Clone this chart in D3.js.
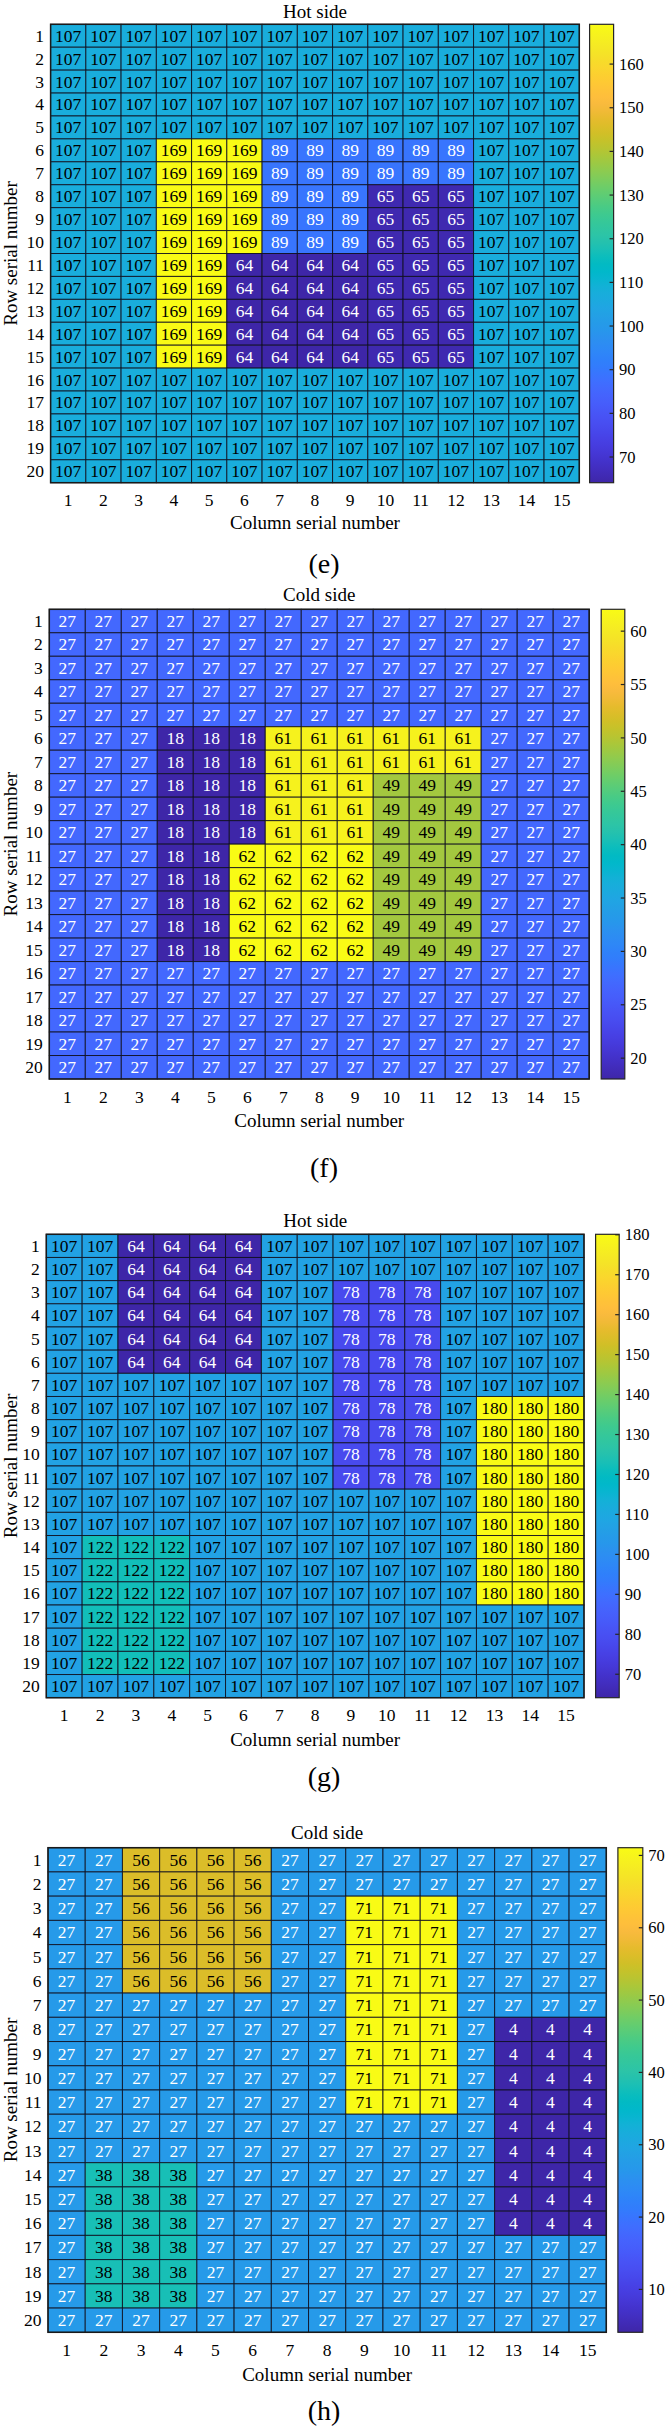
<!DOCTYPE html>
<html><head><meta charset="utf-8">
<script src="https://cdn.jsdelivr.net/npm/d3@7"></script>
<style>body{margin:0;background:#fff}svg{display:block}</style>
</head><body>
<svg id="c" width="672" height="2426"></svg>
<script>
// ---------- data ----------
const colLabels = [1,2,3,4,5,6,7,8,9,10,11,12,13,14,15];
const rowLabels = [1,2,3,4,5,6,7,8,9,10,11,12,13,14,15,16,17,18,19,20];

const hotE = [
 [107,107,107,107,107,107,107,107,107,107,107,107,107,107,107],
 [107,107,107,107,107,107,107,107,107,107,107,107,107,107,107],
 [107,107,107,107,107,107,107,107,107,107,107,107,107,107,107],
 [107,107,107,107,107,107,107,107,107,107,107,107,107,107,107],
 [107,107,107,107,107,107,107,107,107,107,107,107,107,107,107],
 [107,107,107,169,169,169,89,89,89,89,89,89,107,107,107],
 [107,107,107,169,169,169,89,89,89,89,89,89,107,107,107],
 [107,107,107,169,169,169,89,89,89,65,65,65,107,107,107],
 [107,107,107,169,169,169,89,89,89,65,65,65,107,107,107],
 [107,107,107,169,169,169,89,89,89,65,65,65,107,107,107],
 [107,107,107,169,169,64,64,64,64,65,65,65,107,107,107],
 [107,107,107,169,169,64,64,64,64,65,65,65,107,107,107],
 [107,107,107,169,169,64,64,64,64,65,65,65,107,107,107],
 [107,107,107,169,169,64,64,64,64,65,65,65,107,107,107],
 [107,107,107,169,169,64,64,64,64,65,65,65,107,107,107],
 [107,107,107,107,107,107,107,107,107,107,107,107,107,107,107],
 [107,107,107,107,107,107,107,107,107,107,107,107,107,107,107],
 [107,107,107,107,107,107,107,107,107,107,107,107,107,107,107],
 [107,107,107,107,107,107,107,107,107,107,107,107,107,107,107],
 [107,107,107,107,107,107,107,107,107,107,107,107,107,107,107]
];
const coldF = [
 [27,27,27,27,27,27,27,27,27,27,27,27,27,27,27],
 [27,27,27,27,27,27,27,27,27,27,27,27,27,27,27],
 [27,27,27,27,27,27,27,27,27,27,27,27,27,27,27],
 [27,27,27,27,27,27,27,27,27,27,27,27,27,27,27],
 [27,27,27,27,27,27,27,27,27,27,27,27,27,27,27],
 [27,27,27,18,18,18,61,61,61,61,61,61,27,27,27],
 [27,27,27,18,18,18,61,61,61,61,61,61,27,27,27],
 [27,27,27,18,18,18,61,61,61,49,49,49,27,27,27],
 [27,27,27,18,18,18,61,61,61,49,49,49,27,27,27],
 [27,27,27,18,18,18,61,61,61,49,49,49,27,27,27],
 [27,27,27,18,18,62,62,62,62,49,49,49,27,27,27],
 [27,27,27,18,18,62,62,62,62,49,49,49,27,27,27],
 [27,27,27,18,18,62,62,62,62,49,49,49,27,27,27],
 [27,27,27,18,18,62,62,62,62,49,49,49,27,27,27],
 [27,27,27,18,18,62,62,62,62,49,49,49,27,27,27],
 [27,27,27,27,27,27,27,27,27,27,27,27,27,27,27],
 [27,27,27,27,27,27,27,27,27,27,27,27,27,27,27],
 [27,27,27,27,27,27,27,27,27,27,27,27,27,27,27],
 [27,27,27,27,27,27,27,27,27,27,27,27,27,27,27],
 [27,27,27,27,27,27,27,27,27,27,27,27,27,27,27]
];
const hotG = [
 [107,107,64,64,64,64,107,107,107,107,107,107,107,107,107],
 [107,107,64,64,64,64,107,107,107,107,107,107,107,107,107],
 [107,107,64,64,64,64,107,107,78,78,78,107,107,107,107],
 [107,107,64,64,64,64,107,107,78,78,78,107,107,107,107],
 [107,107,64,64,64,64,107,107,78,78,78,107,107,107,107],
 [107,107,64,64,64,64,107,107,78,78,78,107,107,107,107],
 [107,107,107,107,107,107,107,107,78,78,78,107,107,107,107],
 [107,107,107,107,107,107,107,107,78,78,78,107,180,180,180],
 [107,107,107,107,107,107,107,107,78,78,78,107,180,180,180],
 [107,107,107,107,107,107,107,107,78,78,78,107,180,180,180],
 [107,107,107,107,107,107,107,107,78,78,78,107,180,180,180],
 [107,107,107,107,107,107,107,107,107,107,107,107,180,180,180],
 [107,107,107,107,107,107,107,107,107,107,107,107,180,180,180],
 [107,122,122,122,107,107,107,107,107,107,107,107,180,180,180],
 [107,122,122,122,107,107,107,107,107,107,107,107,180,180,180],
 [107,122,122,122,107,107,107,107,107,107,107,107,180,180,180],
 [107,122,122,122,107,107,107,107,107,107,107,107,107,107,107],
 [107,122,122,122,107,107,107,107,107,107,107,107,107,107,107],
 [107,122,122,122,107,107,107,107,107,107,107,107,107,107,107],
 [107,107,107,107,107,107,107,107,107,107,107,107,107,107,107]
];
const coldH = [
 [27,27,56,56,56,56,27,27,27,27,27,27,27,27,27],
 [27,27,56,56,56,56,27,27,27,27,27,27,27,27,27],
 [27,27,56,56,56,56,27,27,71,71,71,27,27,27,27],
 [27,27,56,56,56,56,27,27,71,71,71,27,27,27,27],
 [27,27,56,56,56,56,27,27,71,71,71,27,27,27,27],
 [27,27,56,56,56,56,27,27,71,71,71,27,27,27,27],
 [27,27,27,27,27,27,27,27,71,71,71,27,27,27,27],
 [27,27,27,27,27,27,27,27,71,71,71,27,4,4,4],
 [27,27,27,27,27,27,27,27,71,71,71,27,4,4,4],
 [27,27,27,27,27,27,27,27,71,71,71,27,4,4,4],
 [27,27,27,27,27,27,27,27,71,71,71,27,4,4,4],
 [27,27,27,27,27,27,27,27,27,27,27,27,4,4,4],
 [27,27,27,27,27,27,27,27,27,27,27,27,4,4,4],
 [27,38,38,38,27,27,27,27,27,27,27,27,4,4,4],
 [27,38,38,38,27,27,27,27,27,27,27,27,4,4,4],
 [27,38,38,38,27,27,27,27,27,27,27,27,4,4,4],
 [27,38,38,38,27,27,27,27,27,27,27,27,27,27,27],
 [27,38,38,38,27,27,27,27,27,27,27,27,27,27,27],
 [27,38,38,38,27,27,27,27,27,27,27,27,27,27,27],
 [27,27,27,27,27,27,27,27,27,27,27,27,27,27,27]
];

const ticksE = [70,80,90,100,110,120,130,140,150,160];
const ticksF = [20,25,30,35,40,45,50,55,60];
const ticksG = [70,80,90,100,110,120,130,140,150,160,170,180];
const ticksH = [10,20,30,40,50,60,70];

const titles = ["Hot side","Cold side","Hot side","Cold side"];
const letters = ["(e)","(f)","(g)","(h)"];
const xTitle = "Column serial number";
const yTitle = "Row serial number";

// ---------- parula colormap (style) ----------
const parula = [
[0.2422,0.1504,0.6603],[0.2504,0.1650,0.7076],[0.2578,0.1818,0.7511],[0.2647,0.1978,0.7952],
[0.2706,0.2147,0.8364],[0.2751,0.2342,0.8710],[0.2783,0.2559,0.8991],[0.2803,0.2782,0.9221],
[0.2813,0.3006,0.9414],[0.2810,0.3228,0.9579],[0.2795,0.3447,0.9717],[0.2760,0.3667,0.9829],
[0.2699,0.3892,0.9906],[0.2602,0.4123,0.9952],[0.2440,0.4358,0.9988],[0.2206,0.4603,0.9973],
[0.1963,0.4847,0.9892],[0.1834,0.5074,0.9798],[0.1786,0.5289,0.9682],[0.1764,0.5499,0.9520],
[0.1687,0.5703,0.9359],[0.1540,0.5902,0.9218],[0.1460,0.6091,0.9079],[0.1380,0.6276,0.8973],
[0.1248,0.6459,0.8883],[0.1113,0.6635,0.8763],[0.0952,0.6798,0.8598],[0.0689,0.6948,0.8394],
[0.0297,0.7082,0.8163],[0.0036,0.7203,0.7917],[0.0067,0.7312,0.7660],[0.0433,0.7411,0.7394],
[0.0964,0.7500,0.7120],[0.1408,0.7584,0.6842],[0.1717,0.7670,0.6554],[0.1938,0.7758,0.6251],
[0.2161,0.7843,0.5923],[0.2470,0.7918,0.5567],[0.2906,0.7973,0.5188],[0.3406,0.8008,0.4789],
[0.3909,0.8029,0.4354],[0.4456,0.8024,0.3909],[0.5044,0.7993,0.3480],[0.5616,0.7942,0.3045],
[0.6174,0.7876,0.2612],[0.6720,0.7793,0.2227],[0.7242,0.7698,0.1910],[0.7738,0.7598,0.1646],
[0.8203,0.7498,0.1535],[0.8634,0.7406,0.1596],[0.9035,0.7330,0.1774],[0.9393,0.7288,0.2100],
[0.9728,0.7298,0.2394],[0.9956,0.7434,0.2371],[0.9970,0.7659,0.2199],[0.9952,0.7893,0.2028],
[0.9892,0.8136,0.1885],[0.9786,0.8386,0.1766],[0.9676,0.8639,0.1643],[0.9610,0.8890,0.1537],
[0.9597,0.9135,0.1423],[0.9628,0.9373,0.1265],[0.9691,0.9606,0.1064],[0.9769,0.9839,0.0805]];
function parulaRGB(t){
  t = Math.max(0, Math.min(1, t));
  const f = t*(parula.length-1), i = Math.min(parula.length-2, Math.floor(f)), u = f-i;
  const a = parula[i], b = parula[i+1];
  return [0,1,2].map(k => a[k] + (b[k]-a[k])*u);
}
const toCss = c => d3.rgb(c[0]*255, c[1]*255, c[2]*255).formatHex();

// ---------- layout (style) ----------
const panels = [
 {data:hotE,  ticks:ticksE, x0:50.6,x1:579.3,y0:24.3,  y1:482.7, cb0:589.6,cb1:613.6,titleY:11.7, xtY:500,   xlY:523,   letY:563.5},
 {data:coldF, ticks:ticksF, x0:49.3,x1:589.2,y0:609.3, y1:1079,  cb0:601.2,cb1:624.8,titleY:595,  xtY:1096.7,xlY:1120.7,letY:1167},
 {data:hotG,  ticks:ticksG, x0:46.3,x1:584,  y0:1234.3,y1:1697.7,cb0:595.6,cb1:619.2,titleY:1220.7,xtY:1715, xlY:1740,  letY:1776.7},
 {data:coldH, ticks:ticksH, x0:48,  x1:606.3,y0:1847.7,y1:2332.3,cb0:617.9,cb1:642.8,titleY:1833, xtY:2350,  xlY:2375,  letY:2410}
];
const FONT = "'Liberation Serif','Times New Roman',serif";
const svg = d3.select("#c");
const defs = svg.append("defs");

panels.forEach((p, pi) => {
  const g = svg.append("g");
  const flat = p.data.flat();
  const [vmin, vmax] = d3.extent(flat);
  const norm = d3.scaleLinear().domain([vmin, vmax]).range([0, 1]);
  const colorOf = v => toCss(parulaRGB(norm(v)));
  const lum = v => { const c = parulaRGB(norm(v)); return 0.2989*c[0] + 0.587*c[1] + 0.114*c[2]; };

  const x = d3.scaleBand().domain(colLabels).range([p.x0, p.x1]).padding(0);
  const y = d3.scaleBand().domain(rowLabels).range([p.y0, p.y1]).padding(0);

  const cells = [];
  p.data.forEach((row, ri) => row.forEach((v, ci) => cells.push({r: rowLabels[ri], c: colLabels[ci], v})));

  g.selectAll("rect.cell").data(cells).join("rect")
    .attr("class","cell")
    .attr("x", d => x(d.c)).attr("y", d => y(d.r))
    .attr("width", x.bandwidth()).attr("height", y.bandwidth())
    .attr("fill", d => colorOf(d.v))
    .attr("stroke", "rgba(15,15,30,0.85)").attr("stroke-width", 1);

  g.selectAll("text.val").data(cells).join("text")
    .attr("class","val")
    .attr("x", d => x(d.c) + x.bandwidth()/2)
    .attr("y", d => y(d.r) + y.bandwidth()/2)
    .attr("dy","0.34em")
    .attr("text-anchor","middle")
    .attr("font-family", FONT).attr("font-size", 17.5)
    .attr("fill", d => lum(d.v) < 0.508 ? "#ffffff" : "#000000")
    .text(d => d.v);

  g.append("rect").attr("x", p.x0).attr("y", p.y0)
    .attr("width", p.x1 - p.x0).attr("height", p.y1 - p.y0)
    .attr("fill","none").attr("stroke","#1a1a1a").attr("stroke-width",1.5);

  // x axis tick labels
  const xa = g.append("g").attr("transform", `translate(0,${p.xtY})`)
    .call(d3.axisBottom(x).tickSize(0).tickPadding(0));
  xa.select(".domain").remove();
  xa.selectAll("text").attr("y",0).attr("dy","0.34em")
    .attr("font-family", FONT).attr("font-size", 17.5).attr("fill","#000");

  // y axis tick labels
  const ya = g.append("g").attr("transform", `translate(${p.x0 - 6.5},0)`)
    .call(d3.axisLeft(y).tickSize(0).tickPadding(0));
  ya.select(".domain").remove();
  ya.selectAll("text").attr("x",0).attr("dy","0.34em")
    .attr("font-family", FONT).attr("font-size", 17.5).attr("fill","#000");

  // titles
  const cx = (p.x0 + p.x1)/2;
  g.append("text").attr("x", cx).attr("y", p.titleY).attr("dy","0.34em")
    .attr("text-anchor","middle").attr("font-family", FONT).attr("font-size", 19)
    .text(titles[pi]);
  g.append("text").attr("x", cx).attr("y", p.xlY).attr("dy","0.34em")
    .attr("text-anchor","middle").attr("font-family", FONT).attr("font-size", 19)
    .text(xTitle);
  const cy = (p.y0 + p.y1)/2;
  g.append("text").attr("transform", `translate(10.5,${cy}) rotate(-90)`).attr("dy","0.34em")
    .attr("text-anchor","middle").attr("font-family", FONT).attr("font-size", 19)
    .text(yTitle);
  g.append("text").attr("x", 324).attr("y", p.letY).attr("dy","0.34em")
    .attr("text-anchor","middle").attr("font-family", FONT).attr("font-size", 28)
    .text(letters[pi]);

  // colorbar
  const gid = "grad" + pi;
  const grad = defs.append("linearGradient").attr("id", gid)
    .attr("x1","0").attr("y1","1").attr("x2","0").attr("y2","0");
  grad.selectAll("stop").data(d3.range(0, 1.0001, 1/63)).join("stop")
    .attr("offset", t => t).attr("stop-color", t => toCss(parulaRGB(t)));
  g.append("rect").attr("x", p.cb0).attr("y", p.y0)
    .attr("width", p.cb1 - p.cb0).attr("height", p.y1 - p.y0)
    .attr("fill", `url(#${gid})`).attr("stroke","#262626").attr("stroke-width",1.2);
  const cbY = d3.scaleLinear().domain([vmin, vmax]).range([p.y1, p.y0]);
  const ca = g.append("g").attr("transform", `translate(${p.cb1},0)`)
    .call(d3.axisRight(cbY).tickValues(p.ticks).tickSize(-4).tickPadding(5.5).tickFormat(d3.format("d")));
  ca.select(".domain").remove();
  ca.selectAll("line").attr("stroke","#262626").attr("stroke-width",1.2);
  ca.selectAll("text").attr("dy","0.34em")
    .attr("font-family", FONT).attr("font-size", 16.5).attr("fill","#000");
});
</script>
</body></html>
